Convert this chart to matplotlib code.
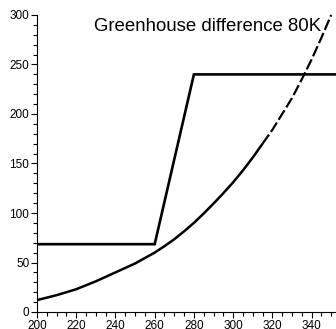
import matplotlib
matplotlib.use("Agg")
import matplotlib.pyplot as plt
from matplotlib.ticker import MultipleLocator

plt.rcParams['font.family'] = ['Liberation Sans', 'DejaVu Sans']

# Emission curve: solid part, then dashed part
curve_T = [200, 205, 210, 215, 220, 225, 230, 235, 240, 245, 250, 255, 260,
           265, 270, 275, 280, 285, 290, 295, 300, 305, 310, 315]
curve_v = [12, 14.5, 17, 20, 23, 27, 31, 35.5, 40, 44.5, 49, 54.5, 60,
           66.5, 73.5, 81.5, 90, 99.5, 109.5, 120, 131, 143, 156, 170]
dash_T = [315, 320, 325, 330, 335, 340, 345, 350]
dash_v = [170, 184, 200, 216, 235, 255, 277, 300]

# Piecewise absorbed line
step_T = [200, 260, 280, 360]
step_v = [68.5, 68.5, 240, 240]

label = "Greenhouse difference 80K"

fig = plt.figure(figsize=(3.36, 3.29), dpi=100)
ax = fig.add_axes([37/336, 17/329, 304/336, 297/329])

ax.plot(step_T, step_v, color='black', lw=1.9, solid_joinstyle='miter')
ax.plot(curve_T, curve_v, color='black', lw=1.8, solid_capstyle='butt')
ax.plot(dash_T, dash_v, color='black', lw=1.6, dashes=(5, 1.5), clip_on=False)

ax.set_xlim(200, 355)
ax.set_ylim(0, 300)
ax.xaxis.set_major_locator(MultipleLocator(20))
ax.xaxis.set_minor_locator(MultipleLocator(5))
ax.yaxis.set_major_locator(MultipleLocator(50))
ax.yaxis.set_minor_locator(MultipleLocator(10))

for s in ['top', 'right']:
    ax.spines[s].set_visible(False)
for s in ['left', 'bottom']:
    ax.spines[s].set_linewidth(0.8)

ax.tick_params(which='major', direction='out', length=4, width=0.8,
               labelsize=8.5, pad=1.5, colors='black')
ax.tick_params(which='minor', direction='out', length=3, width=0.8)

ax.text(345, 288, label, ha='right', va='center', fontsize=13.4, color='black')

fig.savefig("out.png", dpi=100)
